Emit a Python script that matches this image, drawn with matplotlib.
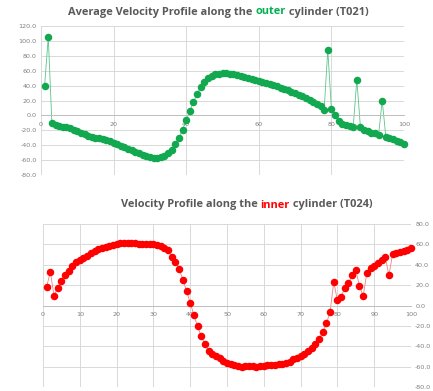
import matplotlib
matplotlib.use('Agg')

import matplotlib.pyplot as plt

# outer cylinder (T021)
outer_x = list(range(1, 101))
outer_v = [40, 105, -10, -13, -14, -15, -16, -17, -19, -21,
           -23, -25, -27, -29, -30, -31, -32, -33, -35, -37,
           -39, -41, -43, -45, -47, -49, -51, -53, -55, -56,
           -57, -57, -56, -54, -51, -46, -39, -30, -19, -6,
           6, 18, 29, 38, 45, 50, 53, 55, 56, 57,
           57, 56, 55, 54, 53, 52, 50, 49, 47, 46,
           45, 44, 42, 41, 39, 37, 36, 34, 32, 30,
           28, 26, 24, 21, 18, 15, 12, 7, 88, 9,
           0, -8, -11, -13, -14, -16, 48, -16, -19, -21,
           -23, -24, -26, 20, -29, -30, -32, -34, -36, -38]

# inner cylinder (T024)
inner_x = list(range(1, 101))
inner_v = [18.6, 33, 9.4, 17.6, 24.4, 30, 34, 39, 42.7, 45,
           47, 49, 51.5, 53.5, 55, 56.5, 57.5, 58.5, 59.5, 60.5,
           61, 61.5, 61.5, 61.5, 61, 60.5, 60.5, 60.5, 60.5, 60.5,
           59.6, 58, 56.7, 54.4, 47.5, 42.3, 35.5, 25.4, 14.3, 2.9,
           -9.4, -20.5, -30.3, -38, -45, -48, -50, -52, -54, -56,
           -57, -58, -59, -60, -59.5, -59, -59.5, -60, -59.5, -59,
           -58.5, -58, -58, -57.5, -57, -56, -55, -53, -51.5, -50,
           -48, -45, -42, -38, -33, -26.4, -17.6, -6.8, 23, 5.2,
           8.8, 17, 21.8, 29.6, 34.5, 19.5, 9.1, 32, 36.5, 39,
           42, 45, 48, 29.6, 50.5, 51.5, 52.5, 53.5, 54.5, 56]

top_title = [("Average Velocity Profile along the ", "#595959"),
             ("outer", "#00B050"),
             (" cylinder (T021)", "#595959")]
bot_title = [("Velocity Profile along the ", "#595959"),
             ("inner", "#FF0000"),
             (" cylinder (T024)", "#595959")]

W, H = 433, 391
fig = plt.figure(figsize=(W / 100, H / 100), dpi=100)
fig.patch.set_facecolor('white')

grid_c = '#D9D9D9'
lab_c = '#7F7F7F'


def style(ax, ylim, yticks, xticks, right=False):
    ax.set_xlim(0, 100)
    ax.set_ylim(*ylim)
    ax.set_yticks(yticks)
    ax.set_xticks(xticks)
    ax.set_yticklabels([f"{t:.1f}" for t in yticks])
    ax.grid(True, color=grid_c, lw=0.7)
    ax.set_axisbelow(True)
    for s in ['top', 'left', 'right']:
        ax.spines[s].set_visible(False)
    ax.spines['bottom'].set_position(('data', 0))
    ax.spines['bottom'].set_color('#BFBFBF')
    ax.spines['bottom'].set_linewidth(0.7)
    ax.tick_params(length=0, labelsize=4.6, colors=lab_c, pad=3)
    ax.tick_params(axis='x', pad=5)
    if right:
        ax.yaxis.tick_right()


def title(ax_fig_x, y, parts, size):
    r = fig.canvas.get_renderer()
    texts = []
    total = 0
    for s, c in parts:
        t = fig.text(0, y, s, color=c, fontsize=size, fontweight='bold',
                     family='Open Sans', va='center', ha='left')
        w = t.get_window_extent(r).width
        texts.append((t, w))
        total += w
    x = ax_fig_x * W - total / 2
    for t, w in texts:
        t.set_x(x / W)
        x += w


ax1 = fig.add_axes([41 / W, 1 - 175 / H, 363 / W, 149 / H])
style(ax1, (-80, 120), list(range(-80, 121, 20)), [0, 20, 40, 60, 80, 100])
ax1.set_xticklabels(['0', '20', '40', '60', '80', '100'])
ax1.plot(outer_x, outer_v, color='#5CC48A', lw=0.6, zorder=2)
ax1.plot(outer_x, outer_v, ls='none', marker='o', ms=4.4, color='#12A84F',
         mec='#12A84F', zorder=3, clip_on=False)

ax2 = fig.add_axes([43 / W, 1 - 387 / H, 368 / W, 163 / H])
style(ax2, (-80, 80), list(range(-80, 81, 20)), list(range(0, 101, 10)), right=True)
ax2.plot(inner_x, inner_v, color='#F08080', lw=0.6, zorder=2)
ax2.plot(inner_x, inner_v, ls='none', marker='o', ms=4.4, color='#FF0000',
         mec='#FF0000', zorder=3, clip_on=False)

title(218.5 / W, 1 - 12 / H, top_title, 7.9)
title(246.5 / W, 1 - 205 / H, bot_title, 7.9)

fig.savefig('out.png', dpi=100)
